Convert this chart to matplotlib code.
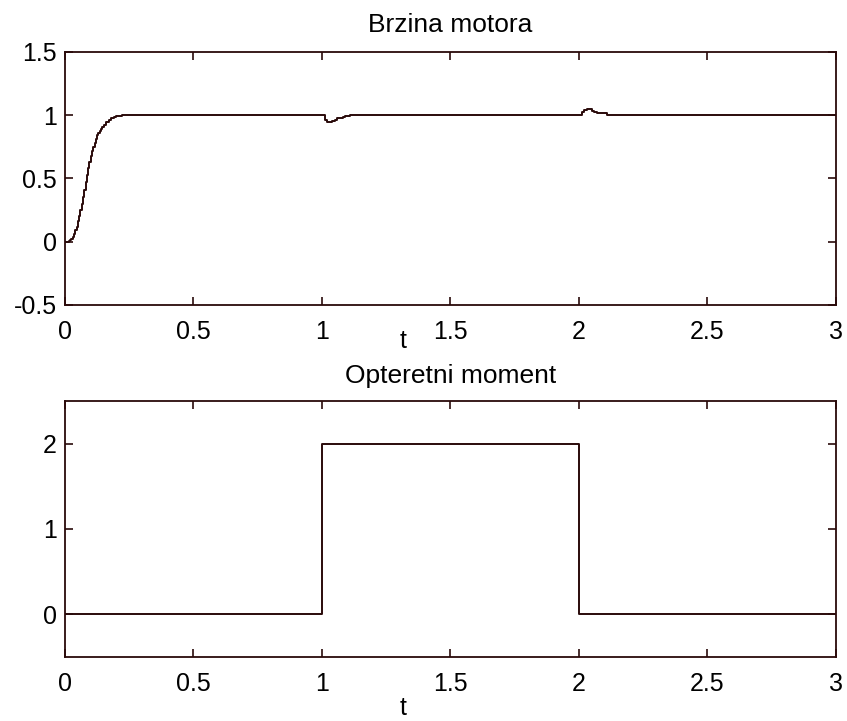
import numpy as np
import matplotlib
matplotlib.use('Agg')
from matplotlib import pyplot as plt

speed_t = [0.000, 0.005, 0.010, 0.015, 0.020, 0.025, 0.030, 0.035, 0.040, 0.045,
           0.050, 0.055, 0.060, 0.065, 0.070, 0.075, 0.080, 0.085, 0.090, 0.095,
           0.100, 0.105, 0.110, 0.115, 0.120, 0.125, 0.130, 0.135, 0.140, 0.145,
           0.150, 0.160, 0.170, 0.180, 0.190, 0.200, 0.210, 0.220, 0.230,
           1.00, 1.01, 1.02, 1.03, 1.04, 1.05, 1.06, 1.07, 1.08, 1.09,
           1.10, 1.11,
           2.00, 2.01, 2.02, 2.03, 2.04, 2.05, 2.06, 2.07, 2.08, 2.09,
           2.10, 2.11, 3.00]
speed_w = [0.00, 0.00, 0.00, 0.005, 0.01, 0.02, 0.04, 0.06, 0.09, 0.12,
           0.16, 0.20, 0.25, 0.30, 0.35, 0.41, 0.47, 0.53, 0.58, 0.63,
           0.68, 0.72, 0.75, 0.78, 0.81, 0.84, 0.86, 0.875, 0.89, 0.905,
           0.92, 0.945, 0.96, 0.975, 0.985, 0.99, 0.995, 1.00, 1.00,
           1.00, 0.96, 0.95, 0.95, 0.955, 0.965, 0.975, 0.98, 0.985, 0.99,
           0.995, 1.00,
           1.00, 1.025, 1.04, 1.045, 1.045, 1.035, 1.025, 1.02, 1.02, 1.02,
           1.015, 1.00, 1.00]

# Load torque
load_t = [0, 1, 1, 2, 2, 3]
load_m = [0, 0, 2, 2, 0, 0]

x_ticks = [0, 0.5, 1, 1.5, 2, 2.5, 3]
x_labels = ['0', '0.5', '1', '1.5', '2', '2.5', '3']

plt.rcParams['font.family'] = ['Liberation Sans', 'DejaVu Sans']
fs = 18

line_col = '#2a0a0a'

fig = plt.figure(figsize=(8.47, 7.21), dpi=100)
ax1 = fig.add_axes([0.0767, 0.577, 0.9103, 0.351])
ax2 = fig.add_axes([0.0767, 0.0888, 0.9103, 0.355])

def style(ax) :
    ax.set_xlim(0, 3)
    ax.set_xticks(x_ticks)
    ax.set_xticklabels(x_labels)
    ax.tick_params(direction='in', length=6, width=1.2, color=line_col,
                   top=True, right=True, labelsize=fs)
    ax.tick_params(axis='x', pad=11)
    ax.tick_params(axis='y', pad=6)
    for s in ax.spines.values() :
        s.set_color(line_col)
        s.set_linewidth(1.3)

ax1.plot(speed_t, speed_w, drawstyle='steps-post', color=line_col, lw=1.4)
style(ax1)
ax1.set_ylim(-0.5, 1.5)
ax1.set_yticks([-0.5, 0, 0.5, 1, 1.5])
ax1.set_yticklabels(['-0.5', '0', '0.5', '1', '1.5'])
ax1.set_title('Brzina motora', fontsize=19, pad=14)
ax1.set_xlabel('t', fontsize=fs)
ax1.xaxis.set_label_coords(0.438, -0.095)

ax2.plot(load_t, load_m, color=line_col, lw=1.4)
style(ax2)
ax2.set_ylim(-0.5, 2.5)
ax2.set_yticks([0, 1, 2])
ax2.set_yticklabels(['0', '1', '2'])
ax2.set_title('Opteretni moment', fontsize=19, pad=13)
ax2.set_xlabel('t', fontsize=fs)
ax2.xaxis.set_label_coords(0.438, -0.152)

fig.savefig('out.png', dpi=100)
